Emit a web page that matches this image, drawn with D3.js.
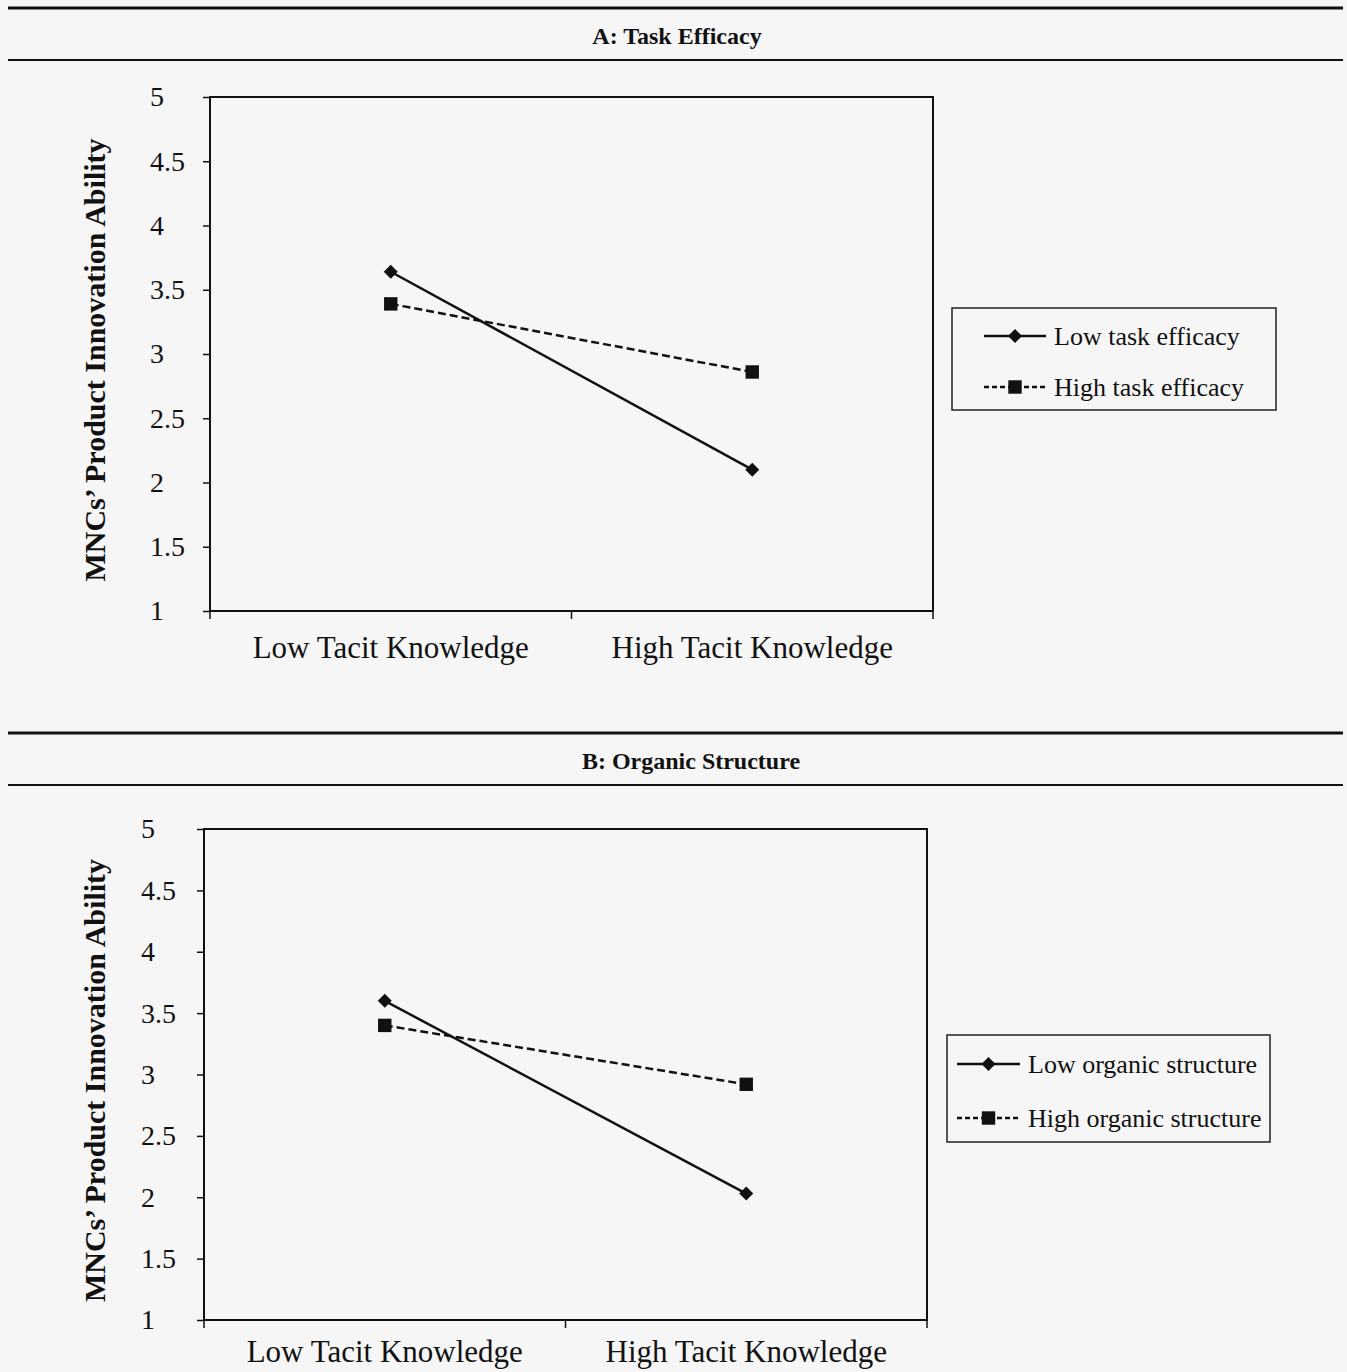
<!DOCTYPE html>
<html>
<head>
<meta charset="utf-8">
<script src="https://cdn.jsdelivr.net/npm/d3@7"></script>
<style>
  body { margin: 0; background: #f6f6f6; }
  svg { display: block; }
  text { font-family: "Liberation Serif", "DejaVu Serif", serif; fill: #111; }
</style>
</head>
<body>
<div id="chart"></div>
<script>
var width = 1347;
var height = 1372;

// values
var categories = ["Low Tacit Knowledge", "High Tacit Knowledge"];
var yTicks = [1, 1.5, 2, 2.5, 3, 3.5, 4, 4.5, 5];
var yTitle = "MNCs\u2019 Product Innovation Ability";

var panelTitles = ["A: Task Efficacy", "B: Organic Structure"];
var lowLabels = ["Low task efficacy", "Low organic structure"];
var highLabels = ["High task efficacy", "High organic structure"];

var taskLow = [3.64, 2.10];
var taskHigh = [3.39, 2.86];
var orgLow = [3.60, 2.03];
var orgHigh = [3.40, 2.92];

var svg = d3.select("#chart")
    .append("svg")
    .attr("width", width)
    .attr("height", height);

function drawPanel(p) {
    // rules above and below the panel title
    svg.append("line")
        .attr("x1", 8).attr("x2", 1343)
        .attr("y1", p.ruleTop).attr("y2", p.ruleTop)
        .attr("stroke", "#111").attr("stroke-width", 3);
    svg.append("line")
        .attr("x1", 8).attr("x2", 1343)
        .attr("y1", p.ruleTop + 52).attr("y2", p.ruleTop + 52)
        .attr("stroke", "#111").attr("stroke-width", 2);
    svg.append("text")
        .attr("x", p.titleX)
        .attr("y", p.ruleTop + 36)
        .attr("text-anchor", "middle")
        .attr("font-size", 24)
        .attr("font-weight", "bold")
        .text(p.title);

    var x = d3.scaleBand()
        .domain(categories)
        .range([p.left, p.right])
        .padding(0);

    var y = d3.scaleLinear()
        .domain([1, 5])
        .range([p.bottom, p.top]);

    // frame
    svg.append("rect")
        .attr("x", p.left).attr("y", p.top)
        .attr("width", p.right - p.left)
        .attr("height", p.bottom - p.top)
        .attr("fill", "none")
        .attr("stroke", "#111")
        .attr("stroke-width", 2);

    var yAxis = svg.append("g")
        .attr("transform", "translate(" + p.left + ",0)")
        .call(d3.axisLeft(y).tickValues(yTicks).tickFormat(d3.format("")).tickSize(7));
    yAxis.select(".domain").remove();
    yAxis.selectAll(".tick line").attr("stroke", "#111").attr("stroke-width", 1.5);
    // labels are left aligned in the original
    yAxis.selectAll(".tick text")
        .attr("x", -p.labelOffset)
        .attr("text-anchor", "start")
        .attr("font-family", "Liberation Serif, serif")
        .attr("font-size", 28)
        .attr("fill", "#111");

    // x ticks sit on the band edges
    var edges = categories.map(function(c) { return x(c); }).concat([p.right]);
    svg.selectAll(null)
        .data(edges)
        .enter()
        .append("line")
        .attr("x1", function(d) { return d; })
        .attr("x2", function(d) { return d; })
        .attr("y1", p.bottom)
        .attr("y2", p.bottom + 8)
        .attr("stroke", "#111")
        .attr("stroke-width", 1.5);

    svg.selectAll(null)
        .data(categories)
        .enter()
        .append("text")
        .attr("x", function(d) { return x(d) + x.bandwidth() / 2; })
        .attr("y", p.bottom + p.catOffset)
        .attr("text-anchor", "middle")
        .attr("font-size", 31)
        .text(function(d) { return d; });

    svg.append("text")
        .attr("transform", "translate(105," + ((p.top + p.bottom) / 2 + 6) + ") rotate(-90)")
        .attr("text-anchor", "middle")
        .attr("font-size", 30)
        .attr("font-weight", "bold")
        .text(yTitle);

    var cx = function(d, i) { return x(categories[i]) + x.bandwidth() / 2; };
    var line = d3.line()
        .x(function(d, i) { return cx(d, i); })
        .y(function(d) { return y(d); });

    svg.append("path")
        .datum(p.high)
        .attr("d", line)
        .attr("fill", "none")
        .attr("stroke", "#111")
        .attr("stroke-width", 2.5)
        .attr("stroke-dasharray", "8,4");
    svg.append("path")
        .datum(p.low)
        .attr("d", line)
        .attr("fill", "none")
        .attr("stroke", "#111")
        .attr("stroke-width", 2.5);

    var diamond = d3.symbol().type(d3.symbolSquare).size(98);
    var square = d3.symbol().type(d3.symbolSquare).size(180);

    svg.selectAll(null)
        .data(p.low)
        .enter()
        .append("path")
        .attr("d", diamond)
        .attr("transform", function(d, i) { return "translate(" + cx(d, i) + "," + y(d) + ") rotate(45)"; })
        .attr("fill", "#111");
    svg.selectAll(null)
        .data(p.high)
        .enter()
        .append("path")
        .attr("d", square)
        .attr("transform", function(d, i) { return "translate(" + cx(d, i) + "," + y(d) + ")"; })
        .attr("fill", "#111");

    // legend
    var lg = p.legend;
    svg.append("rect")
        .attr("x", lg.x).attr("y", lg.y)
        .attr("width", lg.w).attr("height", lg.h)
        .attr("fill", "none")
        .attr("stroke", "#222")
        .attr("stroke-width", 1.5);

    var rows = [
        { label: p.lowLabel, dash: null, sym: diamond, rot: 45 },
        { label: p.highLabel, dash: "5,3", sym: square, rot: 0 }
    ];
    rows.forEach(function(r, i) {
        var ly = lg.y + lg.row0 + i * lg.gap;
        svg.append("line")
            .attr("x1", lg.x + lg.lineX0).attr("x2", lg.x + lg.lineX1)
            .attr("y1", ly).attr("y2", ly)
            .attr("stroke", "#111")
            .attr("stroke-width", 2.5)
            .attr("stroke-dasharray", r.dash);
        svg.append("path")
            .attr("d", r.sym)
            .attr("transform", "translate(" + (lg.x + (lg.lineX0 + lg.lineX1) / 2) + "," + ly + ") rotate(" + r.rot + ")")
            .attr("fill", "#111");
        svg.append("text")
            .attr("x", lg.x + lg.lineX1 + 8)
            .attr("y", ly + 9)
            .attr("font-size", 26)
            .text(r.label);
    });
}

drawPanel({
    ruleTop: 8, titleX: 677, title: panelTitles[0],
    left: 210, right: 933, top: 97, bottom: 611, labelOffset: 60, catOffset: 47,
    low: taskLow, high: taskHigh,
    lowLabel: lowLabels[0], highLabel: highLabels[0],
    legend: { x: 952, y: 308, w: 324, h: 102, row0: 28, gap: 51, lineX0: 32, lineX1: 94 }
});

drawPanel({
    ruleTop: 733, titleX: 691, title: panelTitles[1],
    left: 204, right: 927, top: 829, bottom: 1320, labelOffset: 63, catOffset: 42,
    low: orgLow, high: orgHigh,
    lowLabel: lowLabels[1], highLabel: highLabels[1],
    legend: { x: 947, y: 1035, w: 323, h: 107, row0: 29, gap: 54, lineX0: 10, lineX1: 73 }
});
</script>
</body>
</html>
